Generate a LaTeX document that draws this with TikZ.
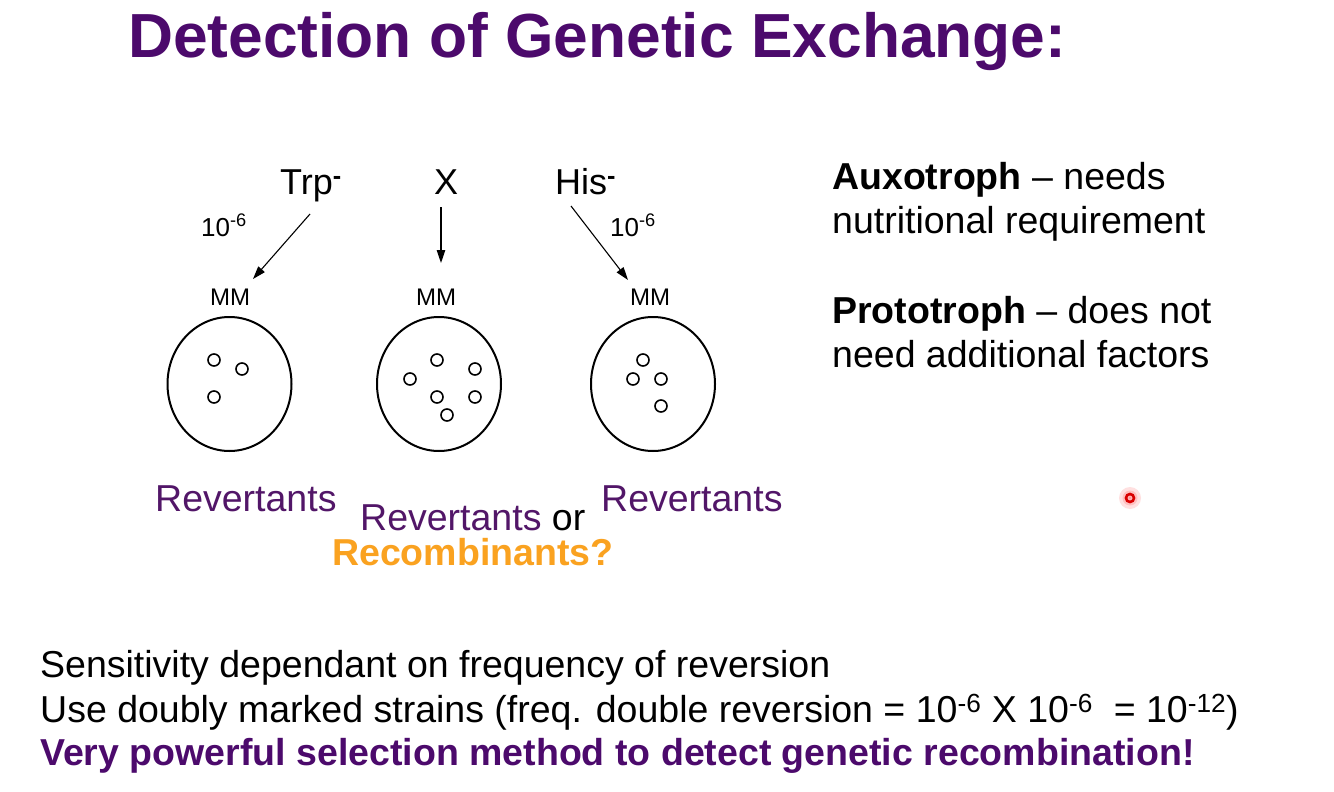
\documentclass[tikz,border=0pt]{standalone}
\usepackage{fontspec}
\setmainfont{Liberation Sans}
\usetikzlibrary{arrows.meta,shapes.geometric}
\definecolor{titlepurple}{RGB}{76,10,108}
\definecolor{revpurple}{RGB}{82,22,104}
\definecolor{recorange}{RGB}{250,162,32}
\tikzset{
  txt/.style={inner sep=0pt, anchor=base west},
  body/.style={txt, font=\fontsize{37.5}{44}\selectfont},
  small/.style={txt, font=\fontsize{24}{28}\selectfont},
  expo/.style={txt, font=\fontsize{26}{30}\selectfont},
  gene/.style={txt, font=\fontsize{36}{42}\selectfont},
  plate/.style={draw, ellipse, line width=2pt, minimum width=124pt, minimum height=134pt, inner sep=0pt},
  colony/.style={draw, circle, line width=1.6pt, minimum size=12pt, inner sep=0pt},
  arr/.style={line width=1.1pt, -{Triangle[length=13pt,width=8.5pt]}},
}
\begin{document}
\begin{tikzpicture}[x=1pt,y=-1pt]
\useasboundingbox (0,0) rectangle (1334,792);
\fill[white] (0,0) rectangle (1334,792);
% title
\node[txt, text=titlepurple, font=\fontsize{62.3}{70}\selectfont\bfseries] (title) at (128,58) {Detection of Genetic Exchange:};
% genes
\node[gene] (trp) at (280,194) {Trp\textsuperscript{\bfseries -}};
\node[gene] (x) at (434,194) {X};
\node[gene] (his) at (555,194) {His\textsuperscript{\bfseries -}};
\node[expo] (f1) at (201,236) {10\textsuperscript{-6}};
\node[expo] (f2) at (610,236) {10\textsuperscript{-6}};
% MM labels
\node[small] (mm1) at (210,305) {MM};
\node[small] (mm2) at (416,305) {MM};
\node[small] (mm3) at (630,305) {MM};
% arrows
\coordinate (a1s) at (310,214);
\coordinate (a1e) at (253,279);
\coordinate (a2s) at (441,207);
\coordinate (a2e) at (441,263);
\coordinate (a3s) at (571,206);
\coordinate (a3e) at (628,280);
\draw[arr] (a1s) -- (a1e);
\draw[arr] (a2s) -- (a2e);
\draw[arr] (a3s) -- (a3e);
% plates
\node[plate] (p1) at (229.5,384) {};
\node[plate] (p2) at (439,384) {};
\node[plate] (p3) at (653,384) {};
% colonies
\node[colony] (c11) at (214,360) {};
\node[colony] (c12) at (242,369) {};
\node[colony] (c13) at (214,397) {};
\node[colony] (c21) at (437,360) {};
\node[colony] (c22) at (475,369) {};
\node[colony] (c23) at (410,379) {};
\node[colony] (c24) at (437,397) {};
\node[colony] (c25) at (475,397) {};
\node[colony] (c26) at (447,415) {};
\node[colony] (c31) at (643,360) {};
\node[colony] (c32) at (633,379) {};
\node[colony] (c33) at (661,379) {};
\node[colony] (c34) at (661,406) {};
% plate captions
\node[body, text=revpurple] (r1) at (155,511) {Revertants};
\node[body] (r2) at (360,530) {\textcolor{revpurple}{Revertants} or};
\node[body, text=recorange, font=\fontsize{37.5}{44}\selectfont\bfseries] (r2b) at (332,565) {Recombinants?};
\node[body, text=revpurple] (r3) at (601,511) {Revertants};
% definitions
\node[body] (d1) at (832,189) {\textbf{Auxotroph} – needs};
\node[body] (d2) at (832,233) {nutritional requirement};
\node[body] (d3) at (832,323) {\textbf{Prototroph} – does not};
\node[body] (d4) at (832,367) {need additional factors};
% pointer dot
\fill[red!12] (1130,498) circle (11);
\fill[red!25] (1130,498) circle (7.5);
\draw[red!85!black, line width=2.6pt] (1130,498) circle (4);
\fill[red!40] (1130,498) circle (1.6);
% bottom text
\node[body] (b1) at (40,677) {Sensitivity dependant on frequency of reversion};
\node[body] (b2) at (40,722) {Use doubly marked strains (freq. double reversion = 10\textsuperscript{-6} X 10\textsuperscript{-6}\ \ = 10\textsuperscript{-12})};
\node[body, text=titlepurple, font=\fontsize{37.5}{44}\selectfont\bfseries] (b3) at (40,765) {Very powerful selection method to detect genetic recombination!};
\end{tikzpicture}
\end{document}
